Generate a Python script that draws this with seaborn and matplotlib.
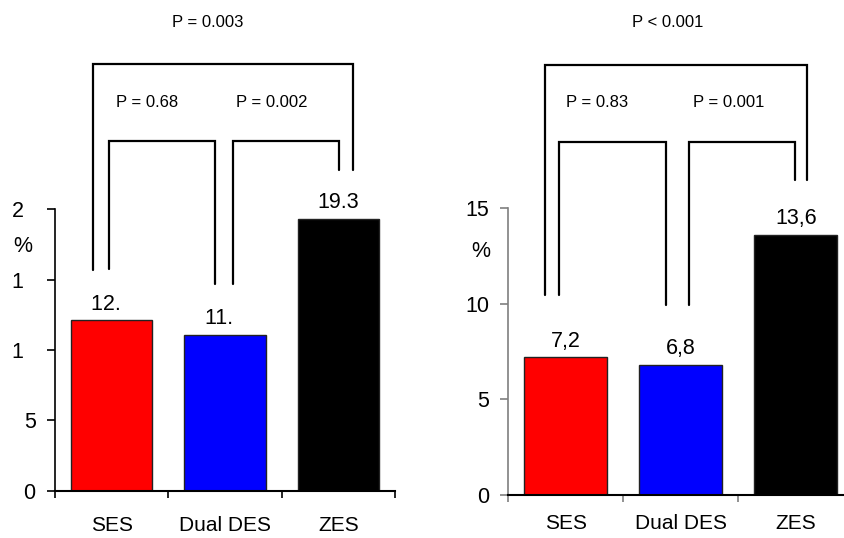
import matplotlib
matplotlib.use("Agg")
import matplotlib.pyplot as plt
import seaborn as sns
import pandas as pd

# Categories and event rates (%)
categories = ["SES", "Dual DES", "ZES"]
bar_colors = ["#FF0000", "#0000FF", "#000000"]

left_values = [12.1, 11.1, 19.3]
left_value_labels = ["12.\u2007", "11.\u2007", "19.3"]
left_yticks = [0, 5, 10, 15, 20]
left_ytick_labels = ["0", "5", "1\u2007", "1\u2007", "2\u2007"]

right_values = [7.2, 6.8, 13.6]
right_value_labels = ["7,2", "6,8", "13,6"]
right_yticks = [0, 5, 10, 15]
right_ytick_labels = ["0", "5", "10", "15"]

# Pairwise comparisons: (label, x-left, x-right, top, left-leg bottom, right-leg bottom, text x, text y)
left_tests = [
    ("P = 0.003", -0.164, 2.13, 30.33, 15.69, 22.8, 0.85, 32.93),
    ("P = 0.68", -0.02, 0.91, 24.85, 15.76, 14.69, 0.315, 27.25),
    ("P = 0.002", 1.07, 2.01, 24.85, 14.69, 22.8, 1.416, 27.25),
]
right_tests = [
    ("P < 0.001", -0.18, 2.10, 22.5, 10.47, 16.48, 0.884, 24.47),
    ("P = 0.83", -0.057, 0.869, 18.47, 10.47, 9.94, 0.269, 20.29),
    ("P = 0.001", 1.071, 1.993, 18.47, 9.94, 16.48, 1.42, 20.29),
]

sns.set_style("white")
plt.rcParams["font.family"] = ["Liberation Sans", "DejaVu Sans"]
plt.rcParams["text.color"] = "black"
plt.rcParams["axes.labelcolor"] = "black"
plt.rcParams["xtick.color"] = "black"
plt.rcParams["ytick.color"] = "black"

fig = plt.figure(figsize=(8.44, 5.38), dpi=100)
ax_l = fig.add_axes([0.0652, 0.0879, 0.4028, 0.5230])
ax_r = fig.add_axes([0.6023, 0.0799, 0.4088, 0.5329])


def draw_panel(ax, values, value_labels, yticks, ytick_labels, tests,
               ylim, spine_color, xpad, ylabel_pos):
    df = pd.DataFrame({"group": categories, "rate": values})
    sns.barplot(data=df, x="group", y="rate", hue="group", palette=bar_colors,
                legend=False, width=0.72, edgecolor="#222222", linewidth=1.0,
                saturation=1, ax=ax)
    ax.set_xlim(-0.5, 2.5)
    ax.set_ylim(*ylim)

    for s in ["top", "right"]:
        ax.spines[s].set_visible(False)
    ax.spines["left"].set_color(spine_color)
    ax.spines["left"].set_linewidth(1.2)
    ax.spines["bottom"].set_color("black")
    ax.spines["bottom"].set_linewidth(1.5)

    ax.set_yticks(yticks)
    ax.set_yticklabels(ytick_labels)
    ax.tick_params(axis="y", direction="out", length=6, width=1.2,
                   color=spine_color, labelcolor="black", pad=8,
                   labelsize=15.5, left=True)

    ax.set_xticks([0, 1, 2])
    ax.set_xticklabels(categories)
    ax.set_xticks([-0.5, 0.5, 1.5, 2.5], minor=True)
    ax.tick_params(axis="x", which="major", length=0, pad=xpad,
                   labelsize=15, labelcolor="black")
    ax.tick_params(axis="x", which="minor", direction="out", length=5,
                   width=1.2, color=spine_color, bottom=True)

    ax.set_xlabel("")
    ax.set_ylabel("%", rotation=0, fontsize=15.5, va="center", ha="center",
                  color="black")
    ax.yaxis.set_label_coords(*ylabel_pos)

    for i, (v, lab) in enumerate(zip(values, value_labels)):
        ax.annotate(lab, (i, v), xytext=(0, 7.8), textcoords="offset points",
                    ha="center", va="baseline", fontsize=15.5, color="black")

    for lab, x0, x1, top, b0, b1, tx, ty in tests:
        ax.plot([x0, x0, x1, x1], [b0, top, top, b1], color="black",
                lw=1.6, clip_on=False, solid_joinstyle="miter")
        ax.text(tx, ty, lab, ha="center", va="baseline", fontsize=12,
                color="black", clip_on=False)


draw_panel(ax_l, left_values, left_value_labels, left_yticks,
           left_ytick_labels, left_tests, (0, 20), "black", 18,
           (-0.0956, 0.8696))
draw_panel(ax_r, right_values, right_value_labels, right_yticks,
           right_ytick_labels, right_tests, (0, 15), "#7f7f7f", 14,
           (-0.0797, 0.851))

fig.savefig("out.png", dpi=100)
